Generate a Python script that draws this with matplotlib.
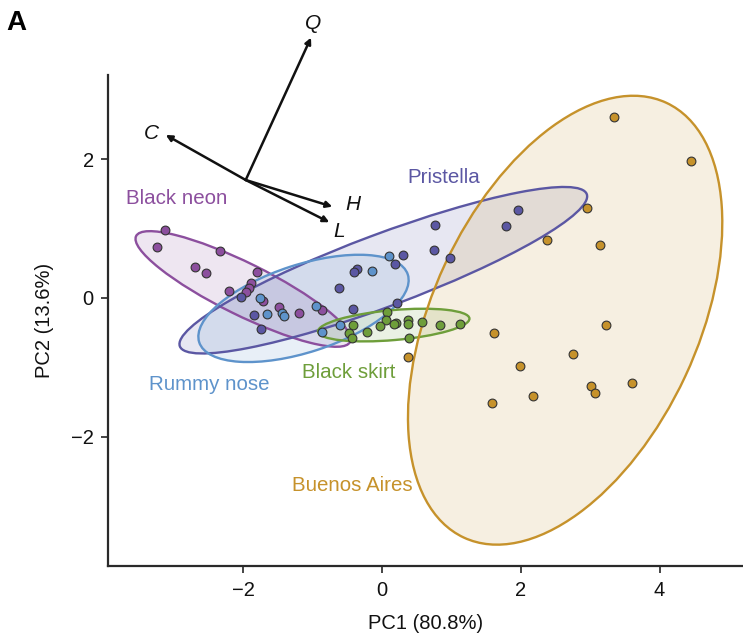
import numpy as np
import matplotlib
matplotlib.use("Agg")
import matplotlib.pyplot as plt
from matplotlib.patches import Ellipse

plt.rcParams['font.family'] = ['Liberation Sans', 'DejaVu Sans']

# ---- data -------------------------------------------------------------
species = ["Black neon", "Pristella", "Rummy nose", "Black skirt", "Buenos Aires"]
colors = ["#8C4F9E", "#5B57A3", "#5E93CB", "#6E9E3A", "#C6922B"]

BN_x = [-3.12, -3.24, -2.34, -2.69, -2.54, -1.80, -1.88, -1.91, -1.96, -2.21, -1.71, -1.48, -1.19, -0.87]
BN_y = [0.98, 0.74, 0.68, 0.45, 0.36, 0.37, 0.21, 0.15, 0.08, 0.10, -0.04, -0.13, -0.22, -0.17]

PR_x = [-2.03, -1.84, -1.74, -0.62, 0.77, 0.31, 0.75, 0.98, 0.19, -0.36, -0.40, 0.22, -0.41, 1.96, 1.79]
PR_y = [0.01, -0.25, -0.45, 0.15, 1.05, 0.62, 0.69, 0.57, 0.49, 0.42, 0.38, -0.07, -0.16, 1.27, 1.03]

RN_x = [-1.75, -1.65, -1.44, -1.41, -0.95, -0.60, -0.87, 0.10, -0.14]
RN_y = [0.00, -0.23, -0.22, -0.26, -0.11, -0.39, -0.49, 0.61, 0.39]

BS_x = [0.08, 0.06, -0.03, 0.21, 0.17, 0.37, 0.37, 0.58, 0.84, 1.13, -0.42, -0.22, -0.48, -0.43, 0.39]
BS_y = [-0.20, -0.32, -0.40, -0.36, -0.37, -0.32, -0.37, -0.34, -0.39, -0.38, -0.39, -0.49, -0.51, -0.57, -0.57]

BA_x = [3.34, 4.45, 2.95, 2.38, 3.14, 1.62, 3.23, 2.75, 1.99, 3.01, 3.07, 3.60, 2.18, 1.59, 0.38]
BA_y = [2.61, 1.97, 1.30, 0.84, 0.76, -0.50, -0.39, -0.80, -0.98, -1.27, -1.37, -1.22, -1.41, -1.52, -0.85]

# confidence ellipses: centre, semi-axes, angle (deg)
ell_cx = [-2.00, 0.02, -1.13, 0.17, 2.64]
ell_cy = [0.13, 0.40, -0.15, -0.39, -0.32]
ell_a = [1.72, 3.13, 1.58, 1.095, 3.455]
ell_b = [0.375, 0.52, 0.63, 0.216, 1.91]
ell_ang = [-26.3, 20.5, 18.0, 5.0, 65.0]

# species label positions
lab_x = [-2.96, 0.89, -2.49, -0.48, -0.42]
lab_y = [1.44, 1.74, -1.25, -1.07, -2.70]

# loadings (biplot arrows)
load_names = ["Q", "C", "H", "L"]
load_origin = (-1.963, 1.700)
load_tip_x = [-1.022, -3.115, -0.715, -0.758]
load_tip_y = [3.751, 2.349, 1.316, 1.091]
load_lab_x = [-0.988, -3.317, -0.412, -0.614]
load_lab_y = [3.958, 2.373, 1.354, 0.955]

xticks = [-2, 0, 2, 4]
yticks = [-2, 0, 2]

# ---- figure -----------------------------------------------------------
fig = plt.figure(figsize=(7.43, 6.43), dpi=100)
ax = fig.add_axes([0.145, 0.1202, 0.855, 0.7632])
ax.set_xlim(-3.951, 5.203)
ax.set_ylim(-3.857, 3.213)

points = [(BN_x, BN_y), (PR_x, PR_y), (RN_x, RN_y), (BS_x, BS_y), (BA_x, BA_y)]

for i, c in enumerate(colors):
    e = Ellipse((ell_cx[i], ell_cy[i]), 2 * ell_a[i], 2 * ell_b[i], angle=ell_ang[i],
                facecolor=c, alpha=0.14, edgecolor='none', zorder=1)
    ax.add_patch(e)
for i, c in enumerate(colors):
    e = Ellipse((ell_cx[i], ell_cy[i]), 2 * ell_a[i], 2 * ell_b[i], angle=ell_ang[i],
                facecolor='none', edgecolor=c, lw=1.7, zorder=2)
    ax.add_patch(e)

for (px, py), c in zip(points, colors):
    ax.scatter(px, py, s=40, color=c, edgecolors='#333333', linewidths=0.8, zorder=3)

for i, name in enumerate(species):
    ax.text(lab_x[i], lab_y[i], name, color=colors[i], fontsize=14.8,
            ha='center', va='center', zorder=4)

for i, n in enumerate(load_names):
    ax.annotate("", xy=(load_tip_x[i], load_tip_y[i]), xytext=load_origin,
                arrowprops=dict(arrowstyle='-|>', color='#111111', lw=1.8,
                                mutation_scale=9, shrinkA=0, shrinkB=0),
                annotation_clip=False, zorder=5)
    ax.text(load_lab_x[i], load_lab_y[i], n, fontsize=15, style='italic',
            ha='center', va='center', color='#111111', clip_on=False, zorder=5)

for s in ['top', 'right']:
    ax.spines[s].set_visible(False)
for s in ['left', 'bottom']:
    ax.spines[s].set_linewidth(1.6)
    ax.spines[s].set_color('#2a2a2a')

ax.set_xticks(xticks)
ax.set_yticks(yticks)
ax.set_xticklabels(["\u22122" if t < 0 else str(t) for t in xticks])
ax.set_yticklabels(["\u22122" if t < 0 else str(t) for t in yticks])
ax.tick_params(axis='both', length=5, width=1.4, color='#444444', labelsize=14.5,
               labelcolor='#111111')
ax.tick_params(axis='x', pad=6)
ax.tick_params(axis='y', pad=5)

ax.set_xlabel("PC1 (80.8%)", fontsize=14.5, labelpad=10, color='#111111')
ax.set_ylabel("PC2 (13.6%)", fontsize=14.5, labelpad=12, color='#111111')

fig.text(0.008, 0.965, "A", fontsize=20, fontweight='bold', ha='left', va='center')

fig.savefig("out.png", dpi=100)
